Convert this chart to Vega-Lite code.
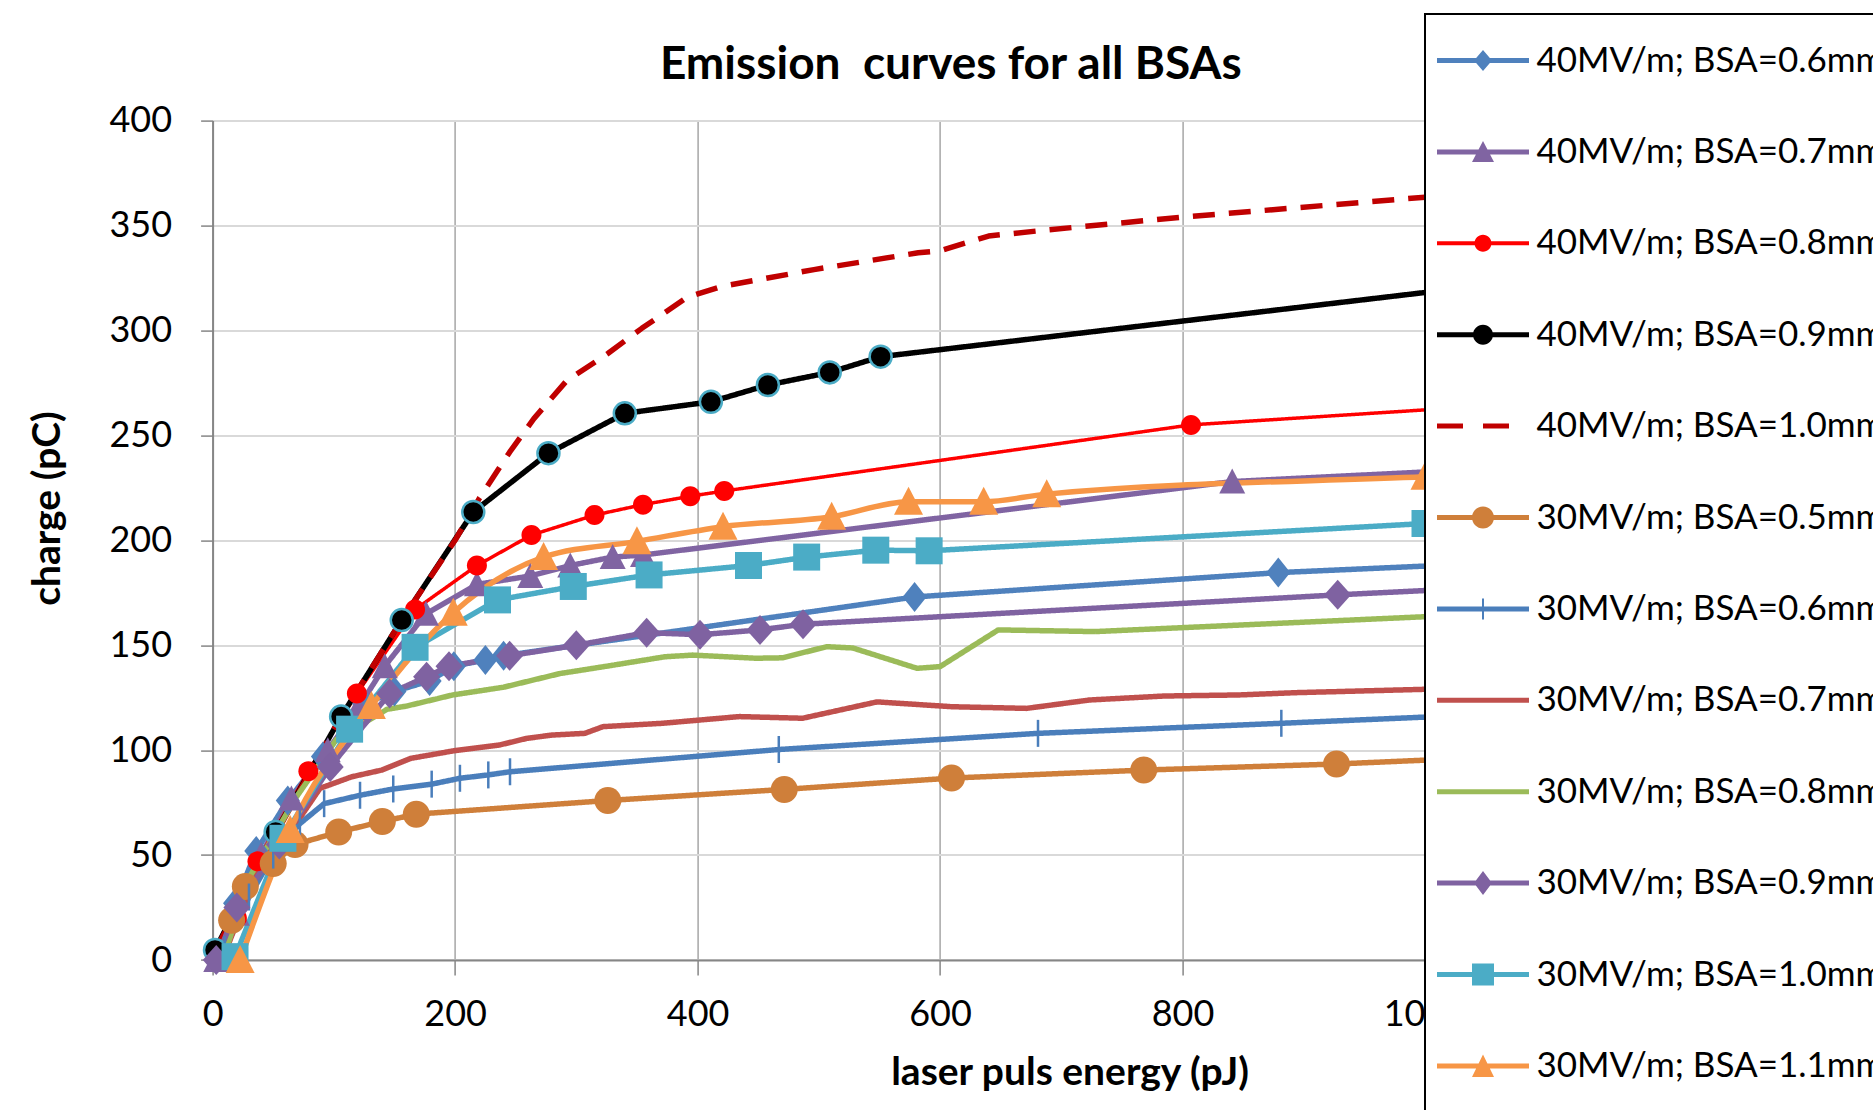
{
  "$schema": "https://vega.github.io/schema/vega-lite/v6.json",
  "width": 1212.4,
  "height": 839.4,
  "autosize": {"type": "none"},
  "padding": {"left": 212.6, "top": 120.6, "right": 448, "bottom": 150},
  "background": "white",
  "config": {"view": {"stroke": null}, "font": "Lato"},
  "title": {"text": "Emission\u00a0 curves for all BSAs", "font": "Lato", "fontSize": 46, "fontWeight": "bold", "color": "black", "anchor": "middle", "frame": "group", "baseline": "alphabetic", "dx": 132, "offset": 0, "dy": 112},
  "data": {"values": [
    {"series": "40MV/m; BSA=0.6mm", "energy": 3, "charge": 3},
    {"series": "40MV/m; BSA=0.6mm", "energy": 18.5, "charge": 27},
    {"series": "40MV/m; BSA=0.6mm", "energy": 36, "charge": 52},
    {"series": "40MV/m; BSA=0.6mm", "energy": 62, "charge": 76},
    {"series": "40MV/m; BSA=0.6mm", "energy": 91, "charge": 97},
    {"series": "40MV/m; BSA=0.6mm", "energy": 125, "charge": 122},
    {"series": "40MV/m; BSA=0.6mm", "energy": 150, "charge": 128},
    {"series": "40MV/m; BSA=0.6mm", "energy": 179, "charge": 133},
    {"series": "40MV/m; BSA=0.6mm", "energy": 199, "charge": 140},
    {"series": "40MV/m; BSA=0.6mm", "energy": 225, "charge": 143},
    {"series": "40MV/m; BSA=0.6mm", "energy": 240, "charge": 145},
    {"series": "40MV/m; BSA=0.6mm", "energy": 579, "charge": 173},
    {"series": "40MV/m; BSA=0.6mm", "energy": 879, "charge": 184.6},
    {"series": "40MV/m; BSA=0.6mm", "energy": 1050, "charge": 189},

    {"series": "40MV/m; BSA=0.7mm", "energy": 3, "charge": 0},
    {"series": "40MV/m; BSA=0.7mm", "energy": 20, "charge": 22},
    {"series": "40MV/m; BSA=0.7mm", "energy": 40, "charge": 50},
    {"series": "40MV/m; BSA=0.7mm", "energy": 65, "charge": 77},
    {"series": "40MV/m; BSA=0.7mm", "energy": 95, "charge": 100},
    {"series": "40MV/m; BSA=0.7mm", "energy": 120, "charge": 120},
    {"series": "40MV/m; BSA=0.7mm", "energy": 142, "charge": 140},
    {"series": "40MV/m; BSA=0.7mm", "energy": 176, "charge": 165},
    {"series": "40MV/m; BSA=0.7mm", "energy": 218, "charge": 179},
    {"series": "40MV/m; BSA=0.7mm", "energy": 262, "charge": 183},
    {"series": "40MV/m; BSA=0.7mm", "energy": 295, "charge": 188},
    {"series": "40MV/m; BSA=0.7mm", "energy": 330, "charge": 192},
    {"series": "40MV/m; BSA=0.7mm", "energy": 355, "charge": 193},
    {"series": "40MV/m; BSA=0.7mm", "energy": 841, "charge": 228},
    {"series": "40MV/m; BSA=0.7mm", "energy": 1050, "charge": 234},

    {"series": "40MV/m; BSA=0.8mm", "energy": 8, "charge": 3},
    {"series": "40MV/m; BSA=0.8mm", "energy": 20, "charge": 20},
    {"series": "40MV/m; BSA=0.8mm", "energy": 37, "charge": 47},
    {"series": "40MV/m; BSA=0.8mm", "energy": 79, "charge": 90},
    {"series": "40MV/m; BSA=0.8mm", "energy": 119, "charge": 127},
    {"series": "40MV/m; BSA=0.8mm", "energy": 167, "charge": 167},
    {"series": "40MV/m; BSA=0.8mm", "energy": 218, "charge": 188},
    {"series": "40MV/m; BSA=0.8mm", "energy": 263, "charge": 202.5},
    {"series": "40MV/m; BSA=0.8mm", "energy": 315, "charge": 212},
    {"series": "40MV/m; BSA=0.8mm", "energy": 355, "charge": 217},
    {"series": "40MV/m; BSA=0.8mm", "energy": 394, "charge": 221},
    {"series": "40MV/m; BSA=0.8mm", "energy": 422, "charge": 223.5},
    {"series": "40MV/m; BSA=0.8mm", "energy": 807, "charge": 255},
    {"series": "40MV/m; BSA=0.8mm", "energy": 1050, "charge": 264},

    {"series": "40MV/m; BSA=0.9mm", "energy": 2, "charge": 4.8},
    {"series": "40MV/m; BSA=0.9mm", "energy": 52, "charge": 61},
    {"series": "40MV/m; BSA=0.9mm", "energy": 106, "charge": 116},
    {"series": "40MV/m; BSA=0.9mm", "energy": 156, "charge": 162},
    {"series": "40MV/m; BSA=0.9mm", "energy": 215, "charge": 213.5},
    {"series": "40MV/m; BSA=0.9mm", "energy": 277, "charge": 241.5},
    {"series": "40MV/m; BSA=0.9mm", "energy": 340, "charge": 260.5},
    {"series": "40MV/m; BSA=0.9mm", "energy": 411, "charge": 266},
    {"series": "40MV/m; BSA=0.9mm", "energy": 458, "charge": 274},
    {"series": "40MV/m; BSA=0.9mm", "energy": 509, "charge": 280},
    {"series": "40MV/m; BSA=0.9mm", "energy": 551, "charge": 287.5},
    {"series": "40MV/m; BSA=0.9mm", "energy": 1050, "charge": 321.5},

    {"series": "40MV/m; BSA=1.0mm", "energy": 2, "charge": 4},
    {"series": "40MV/m; BSA=1.0mm", "energy": 52, "charge": 60},
    {"series": "40MV/m; BSA=1.0mm", "energy": 106, "charge": 116},
    {"series": "40MV/m; BSA=1.0mm", "energy": 156, "charge": 162},
    {"series": "40MV/m; BSA=1.0mm", "energy": 200, "charge": 200},
    {"series": "40MV/m; BSA=1.0mm", "energy": 220, "charge": 220},
    {"series": "40MV/m; BSA=1.0mm", "energy": 245, "charge": 242},
    {"series": "40MV/m; BSA=1.0mm", "energy": 265, "charge": 258},
    {"series": "40MV/m; BSA=1.0mm", "energy": 292, "charge": 276},
    {"series": "40MV/m; BSA=1.0mm", "energy": 326, "charge": 289},
    {"series": "40MV/m; BSA=1.0mm", "energy": 354, "charge": 301},
    {"series": "40MV/m; BSA=1.0mm", "energy": 392, "charge": 316},
    {"series": "40MV/m; BSA=1.0mm", "energy": 420, "charge": 321},
    {"series": "40MV/m; BSA=1.0mm", "energy": 496, "charge": 329},
    {"series": "40MV/m; BSA=1.0mm", "energy": 582, "charge": 337},
    {"series": "40MV/m; BSA=1.0mm", "energy": 600, "charge": 338},
    {"series": "40MV/m; BSA=1.0mm", "energy": 640, "charge": 345},
    {"series": "40MV/m; BSA=1.0mm", "energy": 690, "charge": 348},
    {"series": "40MV/m; BSA=1.0mm", "energy": 800, "charge": 354},
    {"series": "40MV/m; BSA=1.0mm", "energy": 1000, "charge": 363.5},
    {"series": "40MV/m; BSA=1.0mm", "energy": 1050, "charge": 366},

    {"series": "30MV/m; BSA=0.5mm", "energy": 15.7, "charge": 19},
    {"series": "30MV/m; BSA=0.5mm", "energy": 27, "charge": 35},
    {"series": "30MV/m; BSA=0.5mm", "energy": 50, "charge": 46},
    {"series": "30MV/m; BSA=0.5mm", "energy": 68, "charge": 55},
    {"series": "30MV/m; BSA=0.5mm", "energy": 104, "charge": 61},
    {"series": "30MV/m; BSA=0.5mm", "energy": 140, "charge": 66},
    {"series": "30MV/m; BSA=0.5mm", "energy": 168, "charge": 69.5},
    {"series": "30MV/m; BSA=0.5mm", "energy": 326, "charge": 76},
    {"series": "30MV/m; BSA=0.5mm", "energy": 471.5, "charge": 81.3},
    {"series": "30MV/m; BSA=0.5mm", "energy": 609.5, "charge": 86.7},
    {"series": "30MV/m; BSA=0.5mm", "energy": 768, "charge": 90.5},
    {"series": "30MV/m; BSA=0.5mm", "energy": 927, "charge": 93.4},
    {"series": "30MV/m; BSA=0.5mm", "energy": 1050, "charge": 96.5},

    {"series": "30MV/m; BSA=0.6mm", "energy": 10, "charge": 5},
    {"series": "30MV/m; BSA=0.6mm", "energy": 30, "charge": 30},
    {"series": "30MV/m; BSA=0.6mm", "energy": 50, "charge": 50},
    {"series": "30MV/m; BSA=0.6mm", "energy": 72, "charge": 65},
    {"series": "30MV/m; BSA=0.6mm", "energy": 92, "charge": 74.5},
    {"series": "30MV/m; BSA=0.6mm", "energy": 121.6, "charge": 78.5},
    {"series": "30MV/m; BSA=0.6mm", "energy": 149, "charge": 81.5},
    {"series": "30MV/m; BSA=0.6mm", "energy": 180.7, "charge": 83.8},
    {"series": "30MV/m; BSA=0.6mm", "energy": 204, "charge": 86.6},
    {"series": "30MV/m; BSA=0.6mm", "energy": 227.4, "charge": 88.2},
    {"series": "30MV/m; BSA=0.6mm", "energy": 245.3, "charge": 89.7},
    {"series": "30MV/m; BSA=0.6mm", "energy": 467, "charge": 100.3},
    {"series": "30MV/m; BSA=0.6mm", "energy": 680.8, "charge": 108},
    {"series": "30MV/m; BSA=0.6mm", "energy": 881.5, "charge": 112.8},
    {"series": "30MV/m; BSA=0.6mm", "energy": 1050, "charge": 117},

    {"series": "30MV/m; BSA=0.7mm", "energy": 10, "charge": 3},
    {"series": "30MV/m; BSA=0.7mm", "energy": 35, "charge": 40},
    {"series": "30MV/m; BSA=0.7mm", "energy": 55, "charge": 58},
    {"series": "30MV/m; BSA=0.7mm", "energy": 73.5, "charge": 69},
    {"series": "30MV/m; BSA=0.7mm", "energy": 88.6, "charge": 81.8},
    {"series": "30MV/m; BSA=0.7mm", "energy": 114.7, "charge": 87.3},
    {"series": "30MV/m; BSA=0.7mm", "energy": 139.5, "charge": 90.5},
    {"series": "30MV/m; BSA=0.7mm", "energy": 163.5, "charge": 96.1},
    {"series": "30MV/m; BSA=0.7mm", "energy": 199, "charge": 99.7},
    {"series": "30MV/m; BSA=0.7mm", "energy": 237, "charge": 102.5},
    {"series": "30MV/m; BSA=0.7mm", "energy": 259, "charge": 105.6},
    {"series": "30MV/m; BSA=0.7mm", "energy": 280, "charge": 107.2},
    {"series": "30MV/m; BSA=0.7mm", "energy": 307, "charge": 108},
    {"series": "30MV/m; BSA=0.7mm", "energy": 322, "charge": 111.2},
    {"series": "30MV/m; BSA=0.7mm", "energy": 371, "charge": 112.8},
    {"series": "30MV/m; BSA=0.7mm", "energy": 434.5, "charge": 116},
    {"series": "30MV/m; BSA=0.7mm", "energy": 486.6, "charge": 115.2},
    {"series": "30MV/m; BSA=0.7mm", "energy": 548, "charge": 123},
    {"series": "30MV/m; BSA=0.7mm", "energy": 609.7, "charge": 120.7},
    {"series": "30MV/m; BSA=0.7mm", "energy": 671.3, "charge": 119.9},
    {"series": "30MV/m; BSA=0.7mm", "energy": 723.3, "charge": 123.9},
    {"series": "30MV/m; BSA=0.7mm", "energy": 785, "charge": 125.8},
    {"series": "30MV/m; BSA=0.7mm", "energy": 846.3, "charge": 126.3},
    {"series": "30MV/m; BSA=0.7mm", "energy": 893.8, "charge": 127.4},
    {"series": "30MV/m; BSA=0.7mm", "energy": 1000.3, "charge": 129},
    {"series": "30MV/m; BSA=0.7mm", "energy": 1050, "charge": 129.8},

    {"series": "30MV/m; BSA=0.8mm", "energy": 10, "charge": 3},
    {"series": "30MV/m; BSA=0.8mm", "energy": 31, "charge": 40},
    {"series": "30MV/m; BSA=0.8mm", "energy": 69, "charge": 77.6},
    {"series": "30MV/m; BSA=0.8mm", "energy": 102, "charge": 105},
    {"series": "30MV/m; BSA=0.8mm", "energy": 144, "charge": 119.5},
    {"series": "30MV/m; BSA=0.8mm", "energy": 160, "charge": 121},
    {"series": "30MV/m; BSA=0.8mm", "energy": 198, "charge": 126.3},
    {"series": "30MV/m; BSA=0.8mm", "energy": 240, "charge": 130},
    {"series": "30MV/m; BSA=0.8mm", "energy": 286.5, "charge": 136.5},
    {"series": "30MV/m; BSA=0.8mm", "energy": 325, "charge": 140},
    {"series": "30MV/m; BSA=0.8mm", "energy": 373, "charge": 144.5},
    {"series": "30MV/m; BSA=0.8mm", "energy": 396, "charge": 145.3},
    {"series": "30MV/m; BSA=0.8mm", "energy": 448, "charge": 143.8},
    {"series": "30MV/m; BSA=0.8mm", "energy": 470, "charge": 144},
    {"series": "30MV/m; BSA=0.8mm", "energy": 506.5, "charge": 149.3},
    {"series": "30MV/m; BSA=0.8mm", "energy": 528, "charge": 148.7},
    {"series": "30MV/m; BSA=0.8mm", "energy": 581, "charge": 139},
    {"series": "30MV/m; BSA=0.8mm", "energy": 600, "charge": 139.8},
    {"series": "30MV/m; BSA=0.8mm", "energy": 648, "charge": 157.3},
    {"series": "30MV/m; BSA=0.8mm", "energy": 728, "charge": 156.5},
    {"series": "30MV/m; BSA=0.8mm", "energy": 1000.3, "charge": 163.6},
    {"series": "30MV/m; BSA=0.8mm", "energy": 1050, "charge": 164.8},

    {"series": "30MV/m; BSA=0.9mm", "energy": 3, "charge": 0},
    {"series": "30MV/m; BSA=0.9mm", "energy": 20, "charge": 25},
    {"series": "30MV/m; BSA=0.9mm", "energy": 55, "charge": 55},
    {"series": "30MV/m; BSA=0.9mm", "energy": 97, "charge": 92},
    {"series": "30MV/m; BSA=0.9mm", "energy": 146, "charge": 127},
    {"series": "30MV/m; BSA=0.9mm", "energy": 176.5, "charge": 135},
    {"series": "30MV/m; BSA=0.9mm", "energy": 195, "charge": 140},
    {"series": "30MV/m; BSA=0.9mm", "energy": 245, "charge": 145},
    {"series": "30MV/m; BSA=0.9mm", "energy": 300, "charge": 150},
    {"series": "30MV/m; BSA=0.9mm", "energy": 358, "charge": 156},
    {"series": "30MV/m; BSA=0.9mm", "energy": 402, "charge": 155},
    {"series": "30MV/m; BSA=0.9mm", "energy": 451.5, "charge": 157.3},
    {"series": "30MV/m; BSA=0.9mm", "energy": 487, "charge": 160},
    {"series": "30MV/m; BSA=0.9mm", "energy": 928, "charge": 174},
    {"series": "30MV/m; BSA=0.9mm", "energy": 1050, "charge": 177.5},

    {"series": "30MV/m; BSA=1.0mm", "energy": 18.5, "charge": 1.6},
    {"series": "30MV/m; BSA=1.0mm", "energy": 58, "charge": 58},
    {"series": "30MV/m; BSA=1.0mm", "energy": 113, "charge": 110},
    {"series": "30MV/m; BSA=1.0mm", "energy": 167, "charge": 149},
    {"series": "30MV/m; BSA=1.0mm", "energy": 235, "charge": 171.6},
    {"series": "30MV/m; BSA=1.0mm", "energy": 297.5, "charge": 178},
    {"series": "30MV/m; BSA=1.0mm", "energy": 360, "charge": 183.5},
    {"series": "30MV/m; BSA=1.0mm", "energy": 442, "charge": 188},
    {"series": "30MV/m; BSA=1.0mm", "energy": 490, "charge": 192},
    {"series": "30MV/m; BSA=1.0mm", "energy": 547, "charge": 195.3},
    {"series": "30MV/m; BSA=1.0mm", "energy": 591, "charge": 195},
    {"series": "30MV/m; BSA=1.0mm", "energy": 1000, "charge": 208},
    {"series": "30MV/m; BSA=1.0mm", "energy": 1050, "charge": 210},

    {"series": "30MV/m; BSA=1.1mm", "energy": 22.7, "charge": 0},
    {"series": "30MV/m; BSA=1.1mm", "energy": 64, "charge": 62},
    {"series": "30MV/m; BSA=1.1mm", "energy": 131, "charge": 121},
    {"series": "30MV/m; BSA=1.1mm", "energy": 198.5, "charge": 165.5},
    {"series": "30MV/m; BSA=1.1mm", "energy": 273, "charge": 192},
    {"series": "30MV/m; BSA=1.1mm", "energy": 350, "charge": 199.5},
    {"series": "30MV/m; BSA=1.1mm", "energy": 421, "charge": 206.5},
    {"series": "30MV/m; BSA=1.1mm", "energy": 510.6, "charge": 211.2},
    {"series": "30MV/m; BSA=1.1mm", "energy": 574, "charge": 218.4},
    {"series": "30MV/m; BSA=1.1mm", "energy": 636, "charge": 218.4},
    {"series": "30MV/m; BSA=1.1mm", "energy": 688, "charge": 222},
    {"series": "30MV/m; BSA=1.1mm", "energy": 1000, "charge": 230.3},
    {"series": "30MV/m; BSA=1.1mm", "energy": 1050, "charge": 231.5}
  ]},
  "encoding": {
    "x": {"field": "energy", "type": "quantitative",
      "scale": {"domain": [0, 1000], "nice": false, "zero": false},
      "axis": {"values": [0, 200, 400, 600, 800, 1000], "format": "d", "title": "laser puls energy (pJ)",
        "titleFont": "Lato", "titleFontSize": 39, "titleFontWeight": "bold", "titleColor": "black",
        "titleX": 857, "titleY": 112, "titleBaseline": "middle", "titleAlign": "center",
        "labelFont": "Lato", "labelFontSize": 36, "labelColor": "black", "labelPadding": 22,
        "labelFlush": false, "labelOverlap": false,
        "tickSize": 15, "tickColor": "#868686", "tickWidth": 1.5,
        "domainColor": "#868686", "domainWidth": 2,
        "grid": true, "gridColor": "#A6A6A6", "gridWidth": 1.5}},
    "y": {"field": "charge", "type": "quantitative",
      "scale": {"domain": [0, 400], "nice": false},
      "axis": {"values": [0, 50, 100, 150, 200, 250, 300, 350, 400], "title": "charge (pC)",
        "titleFont": "Lato", "titleFontSize": 39, "titleFontWeight": "bold", "titleColor": "black",
        "titleX": -165.6, "titleY": 387.4, "titleAngle": 270, "titleBaseline": "middle", "titleAlign": "center",
        "labelFont": "Lato", "labelFontSize": 36, "labelColor": "black", "labelPadding": 29,
        "tickSize": 12, "tickColor": "#868686", "tickWidth": 1.5,
        "domainColor": "#868686", "domainWidth": 2,
        "grid": true, "gridColor": "#D9D9D9", "gridWidth": 2}},
    "color": {"field": "series", "type": "nominal",
      "scale": {
        "domain": ["40MV/m; BSA=0.6mm", "40MV/m; BSA=0.7mm", "40MV/m; BSA=0.8mm", "40MV/m; BSA=0.9mm", "40MV/m; BSA=1.0mm", "30MV/m; BSA=0.5mm", "30MV/m; BSA=0.6mm", "30MV/m; BSA=0.7mm", "30MV/m; BSA=0.8mm", "30MV/m; BSA=0.9mm", "30MV/m; BSA=1.0mm", "30MV/m; BSA=1.1mm"],
        "range": ["#4F81BD", "#8064A2", "#FF0000", "#000000", "#C00000", "#CF7F3A", "#4A7EBB", "#C0504D", "#9BBB59", "#7F62A1", "#4BACC6", "#F79646"]},
      "legend": {
        "title": " ", "titleFontSize": 10, "titlePadding": 8,
        "orient": "none", "legendX": 1212.4, "legendY": -106.6,
        "padding": 11, "fillColor": "white", "strokeColor": "black",
        "symbolSize": 4, "symbolOffset": 29.5, "labelOffset": 36,
        "labelFont": "Lato", "labelFontSize": 35, "labelColor": "black", "labelLimit": 800,
        "rowPadding": 55.4,
        "encode": {
          "legend": {"update": {"strokeWidth": {"value": 2}}},
          "symbols": {"update": {
            "shape": {"signal": "['M-46,-2.5H46V2.5H-46ZM0,-10.5L9,0L0,10.5L-9,0Z','M-46,-2.5H46V2.5H-46ZM0,-11L11,10L-11,10Z','M-46,-2H46V2H-46ZM-8.5,0A8.5,8.5,0,1,1,8.5,0A8.5,8.5,0,1,1,-8.5,0Z','M-46,-2.5H46V2.5H-46ZM-10,0A10,10,0,1,1,10,0A10,10,0,1,1,-10,0Z','M-46,-2.5H-20V2.5H-46ZM0,-2.5H26V2.5H0Z','M-46,-2.5H46V2.5H-46ZM-11,0A11,11,0,1,1,11,0A11,11,0,1,1,-11,0Z','M-46,-2.5H46V2.5H-46ZM-1,-10.5H1V10.5H-1Z','M-46,-2.5H46V2.5H-46Z','M-46,-2.5H46V2.5H-46Z','M-46,-2.5H46V2.5H-46ZM0,-12L9,0L0,12L-9,0Z','M-46,-2.5H46V2.5H-46ZM-11,-11H11V11H-11Z','M-46,-2.5H46V2.5H-46ZM0,-11.5L11,11L-11,11ZM0,60'][indexof(['40MV/m; BSA=0.6mm','40MV/m; BSA=0.7mm','40MV/m; BSA=0.8mm','40MV/m; BSA=0.9mm','40MV/m; BSA=1.0mm','30MV/m; BSA=0.5mm','30MV/m; BSA=0.6mm','30MV/m; BSA=0.7mm','30MV/m; BSA=0.8mm','30MV/m; BSA=0.9mm','30MV/m; BSA=1.0mm','30MV/m; BSA=1.1mm'], datum.value)]"},
            "size": {"value": 4},
            "fill": {"signal": "scale('color', datum.value)"},
            "stroke": {"value": "transparent"},
            "strokeWidth": {"value": 0},
            "strokeDash": {"value": [1, 0]},
            "opacity": {"value": 1}
          }}
        }
      }
    }
  },
  "layer": [
    {
      "transform": [{"filter": "datum.series !== '30MV/m; BSA=1.1mm'"}],
      "mark": {"type": "line", "strokeJoin": "round", "strokeCap": "butt"},
      "encoding": {
        "strokeWidth": {"condition": {"test": "datum.series === '40MV/m; BSA=0.8mm'", "value": 3.5}, "value": 5.5},
        "strokeDash": {"condition": {"test": "datum.series === '40MV/m; BSA=1.0mm'", "value": [22, 14]}, "value": [1, 0]}
      }
    },
    {
      "transform": [{"filter": "datum.series === '30MV/m; BSA=1.1mm'"}],
      "mark": {"type": "line", "interpolate": "monotone", "strokeWidth": 5.5, "strokeJoin": "round"},
      "encoding": {}
    },
    {
      "transform": [{"filter": "datum.series !== '40MV/m; BSA=1.0mm' && datum.series !== '30MV/m; BSA=0.7mm' && datum.series !== '30MV/m; BSA=0.8mm'"}],
      "mark": {"type": "point", "filled": true, "opacity": 1, "size": 4, "stroke": "#4BACC6"},
      "encoding": {
        "shape": {"field": "series", "type": "nominal", "legend": null,
          "scale": {
            "domain": ["40MV/m; BSA=0.6mm", "40MV/m; BSA=0.7mm", "40MV/m; BSA=0.8mm", "40MV/m; BSA=0.9mm", "30MV/m; BSA=0.5mm", "30MV/m; BSA=0.6mm", "30MV/m; BSA=0.9mm", "30MV/m; BSA=1.0mm", "30MV/m; BSA=1.1mm"],
            "range": ["M0,-15L12,0L0,15L-12,0Z", "M0,-13L13,12L-13,12Z", "M-10,0A10,10,0,1,1,10,0A10,10,0,1,1,-10,0Z", "M-11,0A11,11,0,1,1,11,0A11,11,0,1,1,-11,0Z", "M-13.5,0A13.5,13.5,0,1,1,13.5,0A13.5,13.5,0,1,1,-13.5,0Z", "M-1.25,-13.5H1.25V13.5H-1.25Z", "M0,-15L13.5,0L0,15L-13.5,0Z", "M-13.5,-13.5H13.5V13.5H-13.5Z", "M0,-15L14.5,13L-14.5,13Z"]}},
        "strokeWidth": {"condition": {"test": "datum.series === '40MV/m; BSA=0.9mm'", "value": 2.5}, "value": 0}
      }
    }
  ]
}
